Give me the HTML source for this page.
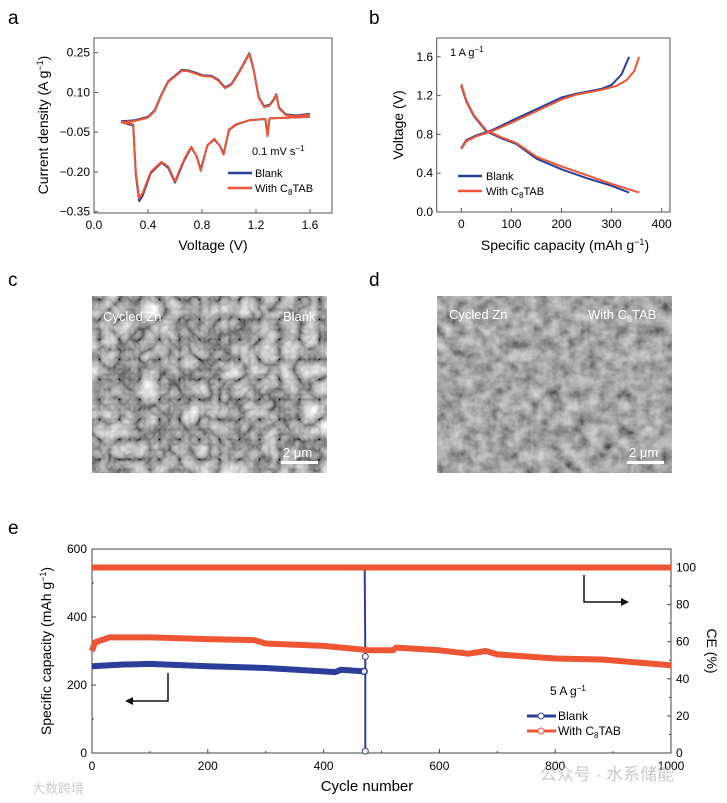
<!DOCTYPE html>
<html><head><meta charset="utf-8"><style>
body{margin:0;background:#fff;}
svg{display:block;font-family:"Liberation Sans","Noto Sans CJK SC",sans-serif;}
</style></head><body>
<svg id="fig" width="727" height="803" viewBox="0 0 727 803">
<defs>
<filter id="noiseC" x="0" y="0" width="100%" height="100%" filterUnits="objectBoundingBox"><feTurbulence type="turbulence" baseFrequency="0.05" numOctaves="3" seed="7"/><feColorMatrix type="saturate" values="0"/><feComponentTransfer><feFuncR type="linear" slope="1.3" intercept="0.0"/><feFuncG type="linear" slope="1.3" intercept="0.0"/><feFuncB type="linear" slope="1.3" intercept="0.0"/><feFuncA type="linear" slope="0" intercept="1"/></feComponentTransfer></filter>
<filter id="noiseD" x="0" y="0" width="100%" height="100%" filterUnits="objectBoundingBox"><feTurbulence type="fractalNoise" baseFrequency="0.08" numOctaves="4" seed="3"/><feColorMatrix type="saturate" values="0"/><feComponentTransfer><feFuncR type="linear" slope="1.0" intercept="-0.12"/><feFuncG type="linear" slope="1.0" intercept="-0.12"/><feFuncB type="linear" slope="1.0" intercept="-0.12"/><feFuncA type="linear" slope="0" intercept="1"/></feComponentTransfer></filter>
</defs>
<text x="8" y="24" font-size="19">a</text>
<text x="369" y="24" font-size="19">b</text>
<text x="8" y="286" font-size="19">c</text>
<text x="369" y="286" font-size="19">d</text>
<text x="8" y="534" font-size="19">e</text>

<g>
<rect x="92" y="296" width="235" height="177" fill="#888" filter="url(#noiseC)"/>
<text x="103" y="321" font-size="13" fill="#fff">Cycled Zn</text>
<text x="283" y="321" font-size="13" fill="#fff">Blank</text>
<rect x="281" y="461" width="37" height="3" fill="#fff"/>
<text x="283" y="457" font-size="13" fill="#fff">2 μm</text>
</g>
<g>
<rect x="437" y="296" width="235" height="177" fill="#777" filter="url(#noiseD)"/>
<text x="449" y="319" font-size="13" fill="#fff">Cycled Zn</text>
<text x="588" y="319" font-size="13" fill="#fff">With C<tspan font-size="9" dy="3">8</tspan><tspan dy="-3">TAB</tspan></text>
<rect x="627" y="461" width="37" height="3" fill="#fff"/>
<text x="629" y="457" font-size="13" fill="#fff">2 μm</text>
</g>
<g id="ga"></g><g id="gb"></g><g id="ge"></g>
<text x="540" y="780" font-size="17" fill="#bbb" opacity="0.8">公众号 · 水系储能</text>
<text x="32" y="793" font-size="13" fill="#ccc">大数跨境</text>
</svg>
<script>
// ---- Panel a data (CV) ----
const cvUpperV=[0.2,0.3,0.4,0.45,0.5,0.55,0.6,0.65,0.7,0.75,0.8,0.87,0.92,0.97,1.02,1.08,1.15,1.18,1.22,1.26,1.3,1.33,1.35,1.37,1.42,1.5,1.6];
const cvUpperI=[-0.012,-0.008,0.005,0.03,0.09,0.14,0.16,0.182,0.18,0.172,0.162,0.16,0.145,0.116,0.13,0.18,0.245,0.19,0.08,0.045,0.05,0.07,0.09,0.04,0.015,0.01,0.016];
const cvLowerV=[1.6,1.4,1.3,1.285,1.27,1.15,1.05,1.0,0.96,0.93,0.89,0.84,0.79,0.76,0.72,0.67,0.6,0.55,0.5,0.42,0.36,0.335,0.31,0.29,0.2];
const cvLowerWith=[0.008,0.004,0.002,-0.065,0.0,-0.005,-0.02,-0.04,-0.135,-0.1,-0.075,-0.1,-0.196,-0.14,-0.105,-0.15,-0.235,-0.18,-0.162,-0.2,-0.28,-0.3,-0.2,-0.02,-0.012];
const cvLowerBlank=[0.008,0.004,0.002,-0.062,0.0,-0.005,-0.022,-0.042,-0.13,-0.1,-0.078,-0.1,-0.19,-0.14,-0.108,-0.155,-0.24,-0.185,-0.165,-0.205,-0.29,-0.31,-0.21,-0.025,-0.012];
const aXTicks=[0.0,0.4,0.8,1.2,1.6];
const aYTicks=[0.25,0.10,-0.05,-0.20,-0.35];
// ---- Panel b data (GCD) ----
const chgCapWith=[0,10,30,60,100,150,200,230,280,310,330,345,355];
const chgVWith=[0.65,0.73,0.78,0.83,0.92,1.04,1.16,1.21,1.26,1.3,1.36,1.45,1.6];
const chgCapBlank=[0,10,30,60,100,150,200,230,280,300,320,335];
const chgVBlank=[0.66,0.74,0.79,0.84,0.94,1.06,1.18,1.22,1.27,1.31,1.42,1.6];
const disCapWith=[0,10,25,50,80,110,150,200,250,300,355];
const disVWith=[1.32,1.15,1.0,0.84,0.77,0.71,0.57,0.47,0.38,0.29,0.2];
const disCapBlank=[0,10,25,50,80,110,150,200,250,300,335];
const disVBlank=[1.3,1.14,0.99,0.83,0.76,0.7,0.55,0.44,0.35,0.27,0.2];
const bXTicks=[0,100,200,300,400];
const bYTicks=[0.0,0.4,0.8,1.2,1.6];
// ---- Panel e data (cycling) ----
const eCycWith=[0,5,30,100,200,280,300,400,480,520,525,600,650,680,700,800,880,950,1000];
const eCapWith=[300,325,340,340,335,332,322,315,302,302,310,302,292,300,290,278,275,265,258];
const eCycBlank=[0,50,100,200,300,400,420,430,470];
const eCapBlank=[255,260,262,255,250,240,238,245,240];
const eCEWith=[100,100];
const eCECycWith=[0,1000];
const eCECycBlank=[0,471,472,472];
const eCEBlank=[100,100,52,1];
const eXTicks=[0,200,400,600,800,1000];
const eYTicks=[0,200,400,600];
const eY2Ticks=[0,20,40,60,80,100];

const NS="http://www.w3.org/2000/svg";
const BLUE="#2b3f9a", RED="#ee5533";
function mk(parent,tag,attrs){const e=document.createElementNS(NS,tag);for(const k in attrs)e.setAttribute(k,attrs[k]);parent.appendChild(e);return e;}
function txt(parent,x,y,s,size,anchor){const t=mk(parent,'text',{x:x,y:y,'font-size':size,'text-anchor':anchor||'middle'});t.textContent=s;return t;}
function line(parent,xs,ys,sx,sy,color,w){const d=xs.map((v,i)=>(i?'L':'M')+sx(v).toFixed(1)+','+sy(ys[i]).toFixed(1)).join('');return mk(parent,'path',{d:d,fill:'none',stroke:color,'stroke-width':w,'stroke-linejoin':'round'});}

// Panel a
(function(){
const g=document.getElementById('ga');
const sx=v=>94+v*135, sy=i=>52.7+(0.25-i)*265;
const box=mk(g,'rect',{x:94,y:38,width:238,height:175,fill:'none',stroke:'#555','stroke-width':1});

aXTicks.forEach(v=>{mk(g,'line',{x1:sx(v),x2:sx(v),y1:213,y2:209,stroke:'#555'});const t=txt(g,sx(v),229,v.toFixed(1),12);});
aYTicks.forEach(v=>{mk(g,'line',{x1:94,x2:98,y1:sy(v),y2:sy(v),stroke:'#555'});const t=txt(g,90,sy(v)+4,(v<0?'\u2212':'')+Math.abs(v).toFixed(2),12,'end');});
const xt=txt(g,213,250,'Voltage (V)',14);
const yt=mk(g,'text',{x:0,y:0,'font-size':14,'text-anchor':'middle',transform:'translate(48,125) rotate(-90)'});yt.innerHTML='Current density (A g<tspan font-size="9" dy="-5">\u22121</tspan><tspan dy="5">)</tspan>';

let p=line(g,cvUpperV,cvUpperI.map(v=>v+0.003),sx,sy,BLUE,2);
p=line(g,cvLowerV,cvLowerBlank,sx,sy,BLUE,2);
p=line(g,cvUpperV,cvUpperI,sx,sy,RED,2);
p=line(g,cvLowerV,cvLowerWith,sx,sy,RED,2);
const sr=mk(g,'text',{x:252,y:155,'font-size':11});sr.innerHTML='0.1 mV s<tspan font-size="8" dy="-4">\u22121</tspan>';

mk(g,'line',{x1:228,x2:252,y1:173,y2:173,stroke:BLUE,'stroke-width':2.5});
let l=txt(g,255,177,'Blank',11,'start');
mk(g,'line',{x1:228,x2:252,y1:188,y2:188,stroke:RED,'stroke-width':2.5});
l=mk(g,'text',{x:255,y:192,'font-size':11});l.innerHTML='With C<tspan font-size="8" dy="3">8</tspan><tspan dy="-3">TAB</tspan>';

})();

// Panel b
(function(){
const g=document.getElementById('gb');
const sx=c=>461.3+c*0.501, sy=v=>212-v*97;
const box=mk(g,'rect',{x:436.7,y:38,width:233.3,height:174,fill:'none',stroke:'#555','stroke-width':1});

bXTicks.forEach(v=>{mk(g,'line',{x1:sx(v),x2:sx(v),y1:212,y2:208,stroke:'#555'});const t=txt(g,sx(v),228,String(v),12);});
bYTicks.forEach(v=>{mk(g,'line',{x1:436.7,x2:440.7,y1:sy(v),y2:sy(v),stroke:'#555'});const t=txt(g,433,sy(v)+4,v.toFixed(1),12,'end');});
const xt=mk(g,'text',{x:565,y:250,'font-size':14,'text-anchor':'middle'});xt.innerHTML='Specific capacity (mAh g<tspan font-size="9" dy="-5">\u22121</tspan><tspan dy="5">)</tspan>';

const yt=mk(g,'text',{x:0,y:0,'font-size':14,'text-anchor':'middle',transform:'translate(403,125) rotate(-90)'});yt.textContent='Voltage (V)';

let p=line(g,chgCapBlank,chgVBlank,sx,sy,BLUE,2);
p=line(g,disCapBlank,disVBlank,sx,sy,BLUE,2);
p=line(g,chgCapWith,chgVWith,sx,sy,RED,2);
p=line(g,disCapWith,disVWith,sx,sy,RED,2);
const cr=mk(g,'text',{x:450,y:56,'font-size':11});cr.innerHTML='1 A g<tspan font-size="8" dy="-4">\u22121</tspan>';

mk(g,'line',{x1:458,x2:482,y1:176,y2:176,stroke:BLUE,'stroke-width':2.5});
let l=txt(g,486,180,'Blank',11,'start');
mk(g,'line',{x1:458,x2:482,y1:191,y2:191,stroke:RED,'stroke-width':2.5});
l=mk(g,'text',{x:486,y:195,'font-size':11});l.innerHTML='With C<tspan font-size="8" dy="3">8</tspan><tspan dy="-3">TAB</tspan>';

})();

// Panel e
(function(){
const g=document.getElementById('ge');
const x0=92,x1=671,yb=753,yt0=549;
const sx=c=>x0+c*(x1-x0)/1000, sy=v=>yb-v*(yb-yt0)/600, sy2=v=>yb-v*(yb-567.5)/100;
const box=mk(g,'rect',{x:x0,y:yt0,width:x1-x0,height:yb-yt0,fill:'none',stroke:'#444','stroke-width':1});

eXTicks.forEach(v=>{mk(g,'line',{x1:sx(v),x2:sx(v),y1:yb,y2:yb-4,stroke:'#444'});if(v<1000)mk(g,'line',{x1:sx(v+100),x2:sx(v+100),y1:yb,y2:yb-2,stroke:'#444'});const t=txt(g,sx(v),770,String(v),12);});
eYTicks.forEach(v=>{mk(g,'line',{x1:x0,x2:x0+4,y1:sy(v),y2:sy(v),stroke:'#444'});if(v<600)mk(g,'line',{x1:x0,x2:x0+2,y1:sy(v+100),y2:sy(v+100),stroke:'#444'});const t=txt(g,x0-5,sy(v)+4,String(v),12,'end');});
eY2Ticks.forEach(v=>{mk(g,'line',{x1:x1,x2:x1-4,y1:sy2(v),y2:sy2(v),stroke:'#444'});if(v<100)mk(g,'line',{x1:x1,x2:x1-2,y1:sy2(v+10),y2:sy2(v+10),stroke:'#444'});const t=txt(g,x1+5,sy2(v)+4,String(v),12,'start');});
const xt2=txt(g,367,791,'Cycle number',15);
const yl=mk(g,'text',{x:0,y:0,'font-size':14,'text-anchor':'middle',transform:'translate(51,651) rotate(-90)'});yl.innerHTML='Specific capacity (mAh g<tspan font-size="9" dy="-5">\u22121</tspan><tspan dy="5">)</tspan>';

const yr=mk(g,'text',{x:0,y:0,'font-size':14,'text-anchor':'middle',transform:'translate(707,651) rotate(90)'});yr.textContent='CE (%)';

let p=line(g,eCECycBlank,eCEBlank,sx,sy2,BLUE,2);
p=line(g,eCECycWith,eCEWith,sx,sy2,RED,6);
p=line(g,eCycBlank,eCapBlank,sx,sy,BLUE,6);
p=line(g,eCycWith,eCapWith,sx,sy,RED,6);
[2,3].forEach(i=>{const c=mk(g,'circle',{cx:sx(eCECycBlank[i]),cy:sy2(eCEBlank[i]),r:3,fill:'#fff',stroke:BLUE,'stroke-width':1});});
const lc=eCycBlank.length-1;const c=mk(g,'circle',{cx:sx(eCycBlank[lc]),cy:sy(eCapBlank[lc]),r:3,fill:'#fff',stroke:BLUE,'stroke-width':1.5});

const a1=mk(g,'path',{d:'M168,673 V701 H131',fill:'none',stroke:'#111','stroke-width':1.5});
mk(g,'path',{d:'M125,701 l8,-4 v8 z',fill:'#111'});
const a2=mk(g,'path',{d:'M584,575 V602 H623',fill:'none',stroke:'#111','stroke-width':1.5});
mk(g,'path',{d:'M629,602 l-8,-4 v8 z',fill:'#111'});
const cr=mk(g,'text',{x:550,y:695,'font-size':12});cr.innerHTML='5 A g<tspan font-size="8" dy="-4">\u22121</tspan>';

mk(g,'line',{x1:527,x2:556,y1:716,y2:716,stroke:BLUE,'stroke-width':3});mk(g,'circle',{cx:541,cy:716,r:3,fill:'#fff',stroke:BLUE});
let l=txt(g,558,720,'Blank',12,'start');
mk(g,'line',{x1:527,x2:556,y1:731,y2:731,stroke:RED,'stroke-width':3});mk(g,'circle',{cx:541,cy:731,r:3,fill:'#fff',stroke:RED});
l=mk(g,'text',{x:558,y:735,'font-size':12});l.innerHTML='With C<tspan font-size="8" dy="3">8</tspan><tspan dy="-3">TAB</tspan>';

})();
</script>
</body></html>
